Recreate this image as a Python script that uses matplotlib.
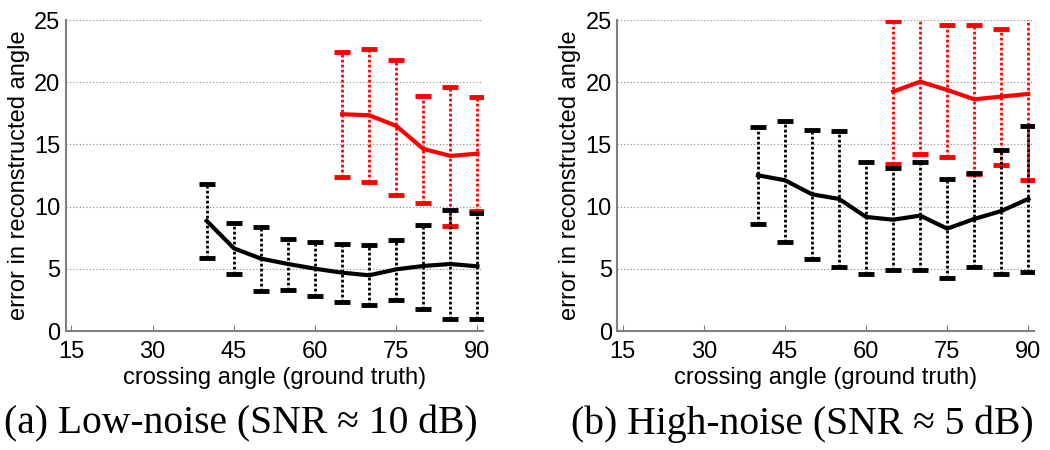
import matplotlib.pyplot as plt
import numpy as np

plt.rcParams['font.family'] = ['Liberation Sans', 'DejaVu Sans']

# crossing angles
x_black = [40, 45, 50, 55, 60, 65, 70, 75, 80, 85, 90]
x_red = [65, 70, 75, 80, 85, 90]

# (a) low noise
low_black_mean = [8.85, 6.65, 5.82, 5.39, 5.01, 4.69, 4.48, 4.96, 5.23, 5.39, 5.2]
low_black_hi = [11.8, 8.66, 8.34, 7.4, 7.13, 6.97, 6.92, 7.32, 8.53, 9.73, 9.52]
low_black_lo = [5.9, 4.58, 3.22, 3.32, 2.79, 2.33, 2.09, 2.52, 1.8, 0.94, 0.94]
low_red_mean = [17.43, 17.35, 16.49, 14.64, 14.08, 14.26]
low_red_hi = [22.4, 22.68, 21.77, 18.9, 19.6, 18.79]
low_red_lo = [12.39, 12.01, 10.96, 10.27, 8.45, 9.68]

# (b) high noise
high_black_mean = [12.52, 12.12, 10.99, 10.62, 9.17, 8.95, 9.28, 8.23, 9.01, 9.65, 10.62]
high_black_hi = [16.38, 16.92, 16.17, 16.09, 13.62, 13.08, 13.62, 12.23, 12.73, 14.58, 16.49]
high_black_lo = [8.6, 7.18, 5.79, 5.15, 4.61, 4.88, 4.88, 4.29, 5.15, 4.61, 4.77]
high_red_mean = [19.25, 20.05, 19.38, 18.63, 18.85, 19.06]
high_red_hi = [24.96, 25.8, 24.64, 24.64, 24.32, 25.8]
high_red_lo = [13.46, 14.26, 13.99, 12.6, 13.38, 12.14]

captions = ["(a) Low-noise (SNR \u2248 10 dB)", "(b) High-noise (SNR \u2248 5 dB)"]

fig = plt.figure(figsize=(10.5, 4.5), dpi=100)
ax1 = fig.add_axes([0.0629, 0.2644, 0.397, 0.691])
ax2 = fig.add_axes([0.588, 0.2644, 0.3965, 0.691])


def draw_err(ax, x, mean, lo, hi, color):
    mean = np.array(mean)
    yerr = [mean - np.array(lo), np.array(hi) - mean]
    line, caps, bars = ax.errorbar(x, mean, yerr=yerr, color=color, lw=3,
                                   elinewidth=2, capsize=6, capthick=3.5)
    bars[0].set_linestyle((0, (1, 0.8)))
    return line


panels = [
    (ax1, low_black_mean, low_black_lo, low_black_hi, low_red_mean, low_red_lo, low_red_hi),
    (ax2, high_black_mean, high_black_lo, high_black_hi, high_red_mean, high_red_lo, high_red_hi),
]
caption_x = [0.229, 0.764]

for i, (ax, bm, bl, bh, rm, rl, rh) in enumerate(panels):
    draw_err(ax, x_red, rm, rl, rh, 'red')
    draw_err(ax, x_black, bm, bl, bh, 'black')

    ax.set_xlim(14, 91)
    ax.set_ylim(0, 25)
    ax.set_xticks([15, 30, 45, 60, 75, 90])
    ax.set_yticks([0, 5, 10, 15, 20, 25])
    ax.grid(axis='y', linestyle=(0, (1, 2)), color='#888888', lw=0.8)
    ax.set_axisbelow(True)
    for s in ['top', 'right']:
        ax.spines[s].set_visible(False)
    for s in ['left', 'bottom']:
        ax.spines[s].set_color('#7f7f7f')
        ax.spines[s].set_linewidth(1.5)
    ax.tick_params(axis='x', direction='in', length=4, color='#7f7f7f', labelsize=17, pad=7)
    ax.tick_params(axis='y', direction='in', length=0, labelsize=17, pad=4)
    ax.set_xlabel('crossing angle (ground truth)', fontsize=17, labelpad=3)
    ax.set_ylabel('error in reconstructed angle', fontsize=17, labelpad=3)
    fig.text(caption_x[i], 0.058, captions[i], ha='center', va='center',
             fontsize=28.5, family=['Liberation Serif', 'DejaVu Serif'])

fig.savefig('out.png', dpi=100)
